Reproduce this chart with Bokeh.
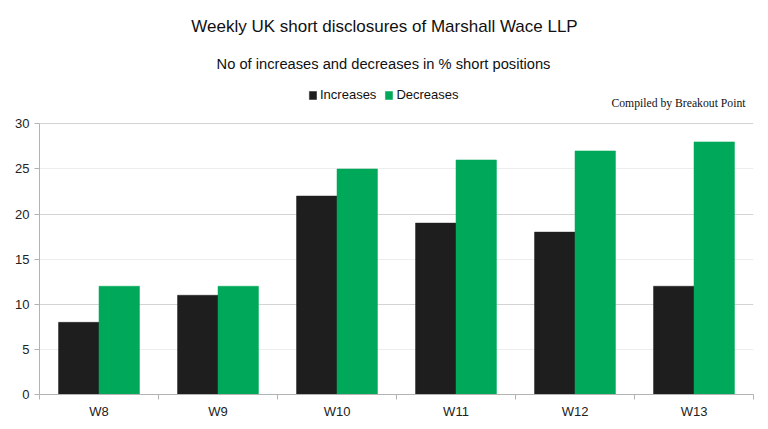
import numpy as np
from bokeh.plotting import figure
from bokeh.models import (Range1d, FixedTicker, Grid, Label, Legend, LegendItem,
                          ColumnDataSource)
from bokeh.embed import file_html
from bokeh.resources import INLINE

weeks = ["W8", "W9", "W10", "W11", "W12", "W13"]
increases = [8, 11, 22, 19, 18, 12]
decreases = [12, 12, 25, 26, 27, 28]
y_ticks = [0, 5, 10, 15, 20, 25, 30]
y_max = 30

title_text = "Weekly UK short disclosures of Marshall Wace LLP"
subtitle_text = "No of increases and decreases in % short positions"
credit_text = "Compiled by Breakout Point"

BLACK = "#1e1e1e"
GREEN = "#00a859"
FONT = "Liberation Sans"

# layout (pixels)
W, H = 760, 421
LEFT, RIGHT, BOTTOM = 39, 7, 25
FRAME_H = H - BOTTOM            # frame spans whole top so header texts are not clipped
AXIS_H = 272                    # pixel height of the 0..30 value axis
top_value = y_max * FRAME_H / AXIS_H

idx = np.arange(len(weeks))
bw = 0.34
src = ColumnDataSource(dict(
    xi=idx + 0.5 - bw / 2,
    xd=idx + 0.5 + bw / 2,
    inc=increases,
    dec=decreases,
))

p = figure(width=W, height=H, output_backend="svg", toolbar_location=None,
           x_range=Range1d(0, len(weeks)), y_range=Range1d(0, top_value),
           min_border_left=LEFT, min_border_right=RIGHT, min_border_top=0,
           min_border_bottom=BOTTOM)
p.outline_line_color = None
p.background_fill_color = "white"
p.border_fill_color = "white"

# grids
p.xgrid.grid_line_color = None
p.ygrid.ticker = FixedTicker(ticks=[10, 20, 30])
p.ygrid.grid_line_color = "#d4d4d4"
p.add_layout(Grid(dimension=1, ticker=FixedTicker(ticks=[5, 15, 25]),
                  grid_line_color="#ededed"))
p.add_layout(Grid(dimension=0, ticker=FixedTicker(ticks=[len(weeks)]),
                  bounds=(0, y_max), grid_line_color="#ededed"))

r_inc = p.vbar(x="xi", top="inc", width=bw, source=src, fill_color=BLACK,
               line_color=BLACK, line_width=0.5)
r_dec = p.vbar(x="xd", top="dec", width=bw, source=src, fill_color=GREEN,
               line_color=GREEN, line_width=0.5)

# axes
xa = p.xaxis[0]
xa.ticker = FixedTicker(ticks=list(idx + 0.5), minor_ticks=list(range(len(weeks) + 1)))
xa.major_label_overrides = {float(i + 0.5): w for i, w in enumerate(weeks)}
xa.major_tick_line_color = None
xa.minor_tick_line_color = "#b3b3b3"
xa.minor_tick_out = 5
xa.minor_tick_in = 0
xa.axis_line_color = "#b3b3b3"
xa.major_label_text_font = FONT
xa.major_label_text_font_size = "13px"
xa.major_label_text_color = "#222222"
xa.major_label_standoff = 3

ya = p.yaxis[0]
ya.ticker = FixedTicker(ticks=y_ticks)
ya.bounds = (0, y_max)
ya.axis_line_color = "#b3b3b3"
ya.major_tick_line_color = "#b3b3b3"
ya.major_tick_out = 5
ya.major_tick_in = 0
ya.minor_tick_line_color = None
ya.major_label_text_font = FONT
ya.major_label_text_font_size = "13px"
ya.major_label_text_color = "#222222"
ya.major_label_standoff = 5

# header texts (screen units relative to frame bottom-left)
fb = FRAME_H  # frame bottom in figure pixels
p.add_layout(Label(x=345, y=fb - 28, x_units="screen", y_units="screen", text=title_text,
                   text_font=FONT, text_font_size="17px", text_align="center",
                   text_baseline="middle", text_color="#111111"))
p.add_layout(Label(x=344, y=fb - 65, x_units="screen", y_units="screen", text=subtitle_text,
                   text_font=FONT, text_font_size="14.7px", text_align="center",
                   text_baseline="middle", text_color="#111111"))
p.add_layout(Label(x=706, y=fb - 105, x_units="screen", y_units="screen", text=credit_text,
                   text_font="Liberation Serif", text_font_size="11.7px", text_align="right",
                   text_baseline="middle", text_color="#111111"))

legend = Legend(items=[LegendItem(label="Increases", renderers=[r_inc]),
                       LegendItem(label="Decreases", renderers=[r_dec])],
                orientation="horizontal", location=(269, fb - 104),
                glyph_width=9, glyph_height=10, label_standoff=3, spacing=8,
                padding=0, margin=0, border_line_color=None,
                background_fill_alpha=0, label_text_font=FONT,
                label_text_font_size="13px", label_height=14, label_text_color="#111111")
p.add_layout(legend)

open("out.html", "w").write(file_html(p, INLINE))
